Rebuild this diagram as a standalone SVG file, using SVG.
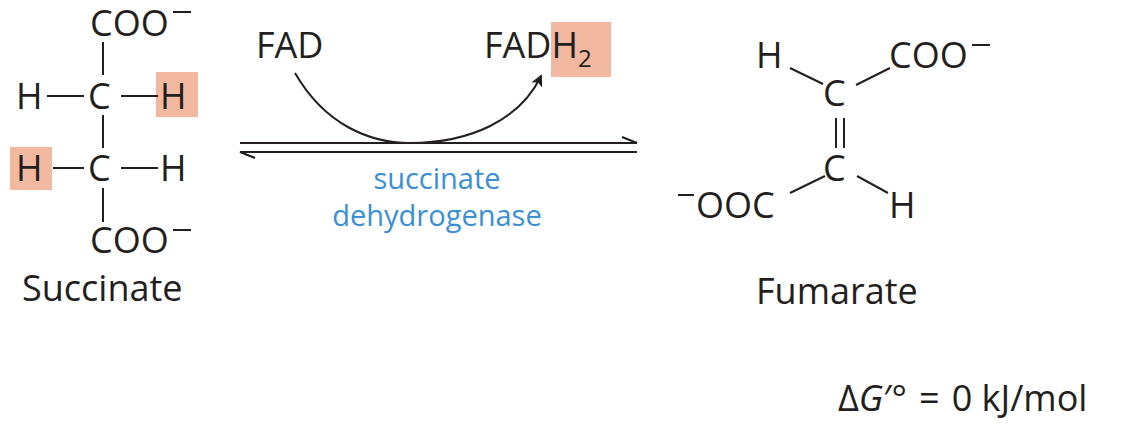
<svg xmlns="http://www.w3.org/2000/svg" width="1136" height="428" viewBox="0 0 1136 428">
<style>
text{font-family:"Open Sans","Liberation Sans",sans-serif;font-size:36px;fill:#231f20}
.b{stroke:#231f20;stroke-width:2;fill:none}
.hl{fill:#f2b8a0}
.blue{fill:#3a8fd6;font-size:29px}
</style>
<defs>
<marker id="ah" markerWidth="12" markerHeight="12" refX="10" refY="6" orient="auto" markerUnits="userSpaceOnUse"><path d="M0,0 L12,6 L0,12 L3,6 Z" fill="#231f20"/></marker>
</defs>
<g id="succinate">
<rect class="hl" x="156" y="72" width="42" height="45"/>
<rect class="hl" x="10" y="147" width="42" height="43"/>
<text x="90" y="36">COO</text><line class="b" x1="173" y1="12" x2="191" y2="12"/>
<line class="b" x1="103" y1="42" x2="103" y2="75"/>
<text x="16" y="109">H</text><line class="b" x1="47" y1="96" x2="84" y2="96"/><text x="88" y="109">C</text><line class="b" x1="121" y1="96" x2="158" y2="96"/><text x="160" y="109">H</text>
<line class="b" x1="103" y1="115" x2="103" y2="148"/>
<text x="16" y="181">H</text><line class="b" x1="53" y1="168" x2="84" y2="168"/><text x="88" y="181">C</text><line class="b" x1="121" y1="168" x2="158" y2="168"/><text x="160" y="181">H</text>
<line class="b" x1="103" y1="188" x2="103" y2="222"/>
<text x="90" y="253">COO</text><line class="b" x1="173" y1="230" x2="191" y2="230"/>
<text x="22" y="301">Succinate</text>
</g>
<g id="cofactors">
<text x="256" y="58">FAD</text>
<rect class="hl" x="551" y="22" width="60" height="55"/>
<text x="484" y="58">FADH<tspan font-size="24" dy="9">2</tspan></text>
</g>
<g id="enzyme">
<text class="blue" x="437" y="189" text-anchor="middle">succinate</text>
<text class="blue" x="437" y="226" text-anchor="middle">dehydrogenase</text>
</g>
<g id="fumarate">
<text x="756" y="68">H</text><text x="889" y="68">COO</text><line class="b" x1="972" y1="45" x2="990" y2="45"/>
<line class="b" x1="790" y1="68" x2="823" y2="84"/><line class="b" x1="856" y1="85" x2="890" y2="68"/>
<text x="823" y="106">C</text>
<line class="b" x1="836" y1="118" x2="836" y2="148"/><line class="b" x1="844" y1="118" x2="844" y2="148"/>
<text x="823" y="181">C</text>
<line class="b" x1="790" y1="193" x2="825" y2="176"/><line class="b" x1="857" y1="176" x2="888" y2="193"/>
<line class="b" x1="678" y1="195" x2="694" y2="195"/><text x="696" y="218">OOC</text>
<text x="889" y="218">H</text>
<text x="756" y="304">Fumarate</text>
</g>
<g id="connectors">
<path class="b" d="M295,73 C325,125 370,143 410,143 C470,143 520,120 541,76" marker-end="url(#ah)"/>
<path class="b" d="M240,143 L637,143 L622,137"/>
<path class="b" d="M637,152 L240,152 L255,158"/>
</g>
<text x="838" y="411">Δ<tspan font-style="italic">G</tspan>′°<tspan dx="12">=</tspan><tspan dx="12">0 kJ/mol</tspan></text>
</svg>
